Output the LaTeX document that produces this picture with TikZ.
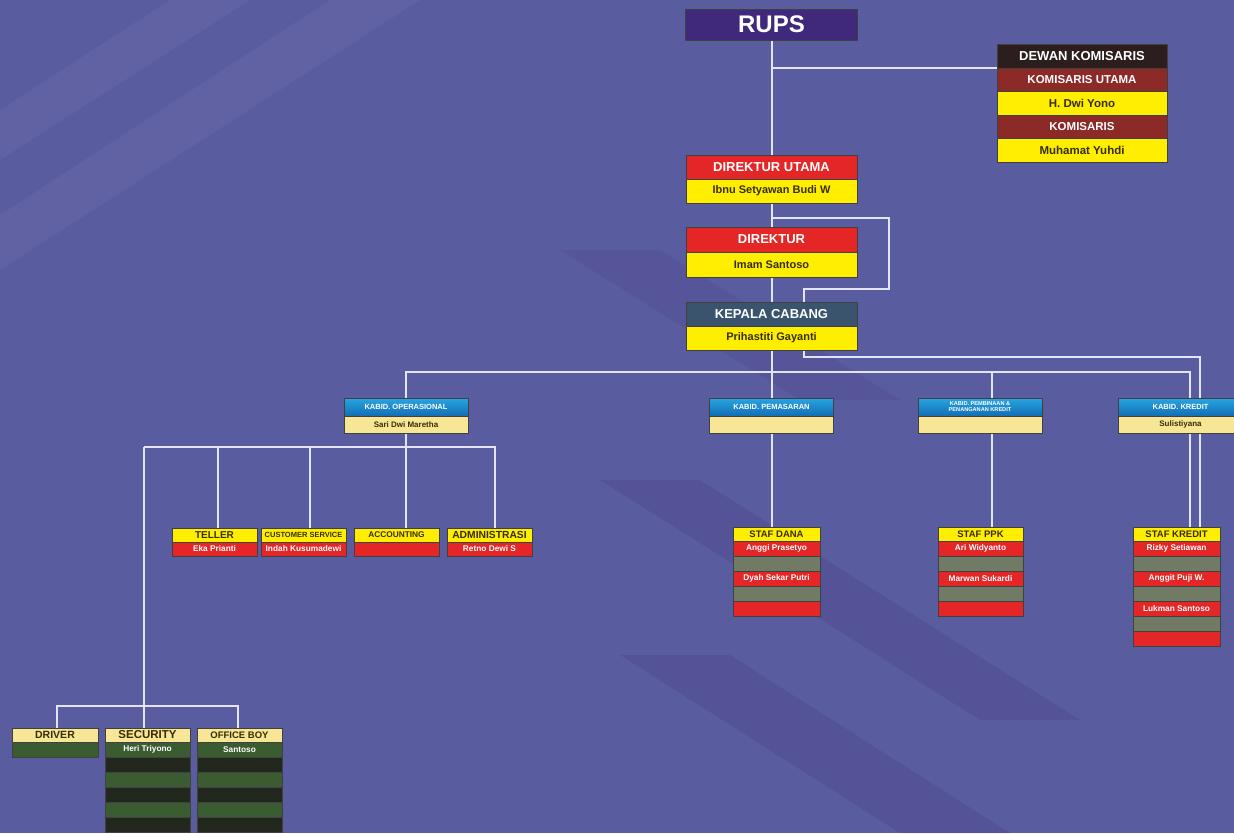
\documentclass[tikz,border=0pt]{standalone}
\usepackage{fontspec}
\setmainfont{Liberation Sans}
\usetikzlibrary{positioning,calc}

\definecolor{bgc}{RGB}{90,92,160}
\definecolor{stripec}{RGB}{70,60,130}
\definecolor{rupsc}{RGB}{64,40,122}
\definecolor{dkc}{RGB}{45,30,30}
\definecolor{brownc}{RGB}{140,42,40}
\definecolor{yelc}{RGB}{255,238,0}
\definecolor{redc}{RGB}{228,38,38}
\definecolor{slatec}{RGB}{58,84,110}
\definecolor{bluetc}{RGB}{40,165,225}
\definecolor{bluebc}{RGB}{18,110,180}
\definecolor{paleyc}{RGB}{246,230,150}
\definecolor{grayc}{RGB}{112,122,100}
\definecolor{greenc}{RGB}{58,92,48}
\definecolor{darkgc}{RGB}{34,40,30}
\definecolor{linec}{RGB}{228,228,248}
\definecolor{inkc}{RGB}{55,45,0}

\pgfdeclarelayer{back}
\pgfdeclarelayer{lines}
\pgfsetlayers{back,lines,main}

\begin{document}
\begin{tikzpicture}[x=1pt,y=-1pt,
  box/.style={draw=black!75, line width=0.6pt, inner sep=0pt, outer sep=0pt, font=\bfseries},
  mid/.style={box, minimum width=171pt, minimum height=24pt},
  kabid/.style={box, minimum width=124pt, minimum height=18pt, top color=bluetc, bottom color=bluebc, text=white, font=\bfseries\fontsize{7.5}{8}\selectfont},
  kname/.style={box, minimum width=124pt, minimum height=17pt, fill=paleyc, text=inkc, font=\bfseries\fontsize{8}{9}\selectfont},
  shd/.style={box, fill=yelc, text=inkc, minimum height=14pt, font=\bfseries\fontsize{9.5}{10}\selectfont},
  srow/.style={box, minimum height=15pt, text=white, font=\bfseries\fontsize{8.3}{9}\selectfont},
  link/.style={draw=linec, line width=2pt}]

\useasboundingbox (0,0) rectangle (1234,833);

\begin{pgfonlayer}{back}
  \fill[bgc] (0,0) rectangle (1234,833);
  \fill[stripec, opacity=0.25] (600,480) -- (700,480) -- (1080,720) -- (980,720) -- cycle;
  \fill[stripec, opacity=0.25] (620,655) -- (730,655) -- (1010,833) -- (900,833) -- cycle;
  \fill[stripec, opacity=0.2] (560,250) -- (660,250) -- (900,400) -- (800,400) -- cycle;
  \fill[white, opacity=0.04] (170,0) -- (250,0) -- (0,160) -- (0,110) -- cycle;
  \fill[white, opacity=0.04] (330,0) -- (420,0) -- (0,270) -- (0,215) -- cycle;
\end{pgfonlayer}

% top
\node[box, fill=rupsc, text=white, minimum width=172pt, minimum height=31pt, anchor=north,
  font=\bfseries\fontsize{24}{26}\selectfont] (rups) at (771.5,9) {RUPS};

\node[box, fill=dkc, text=white, minimum width=170pt, minimum height=24pt, anchor=north,
  font=\bfseries\fontsize{13}{15}\selectfont] (dk0) at (1082,44) {DEWAN KOMISARIS};
\foreach \c/\t/\f [count=\i, remember=\i as \j (initially 0)] in
  {brownc/KOMISARIS UTAMA/white, yelc/H. Dwi Yono/inkc, brownc/KOMISARIS/white, yelc/Muhamat Yuhdi/inkc}
  \node[box, fill=\c, text=\f, minimum width=170pt, minimum height=23.5pt, below=0pt of dk\j,
    font=\bfseries\fontsize{11.5}{13}\selectfont] (dk\i) {\t};

\node[mid, fill=redc, text=white, anchor=north, font=\bfseries\fontsize{13}{15}\selectfont] (du0) at (771.5,155) {DIREKTUR UTAMA};
\node[mid, fill=yelc, text=inkc, below=0pt of du0, font=\bfseries\fontsize{11}{13}\selectfont] (du1) {Ibnu Setyawan Budi W};

\node[mid, fill=redc, text=white, anchor=north, minimum height=25pt, font=\bfseries\fontsize{13}{15}\selectfont] (dir0) at (771.5,227) {DIREKTUR};
\node[mid, fill=yelc, text=inkc, minimum height=25pt, below=0pt of dir0, font=\bfseries\fontsize{11}{13}\selectfont] (dir1) {Imam Santoso};

\node[mid, fill=slatec, text=white, anchor=north, font=\bfseries\fontsize{13}{15}\selectfont] (kc0) at (771.5,302) {KEPALA CABANG};
\node[mid, fill=yelc, text=inkc, below=0pt of kc0, font=\bfseries\fontsize{11}{13}\selectfont] (kc1) {Prihastiti Gayanti};

% kabid
\node[kabid, anchor=north] (ops0) at (406,398) {KABID. OPERASIONAL};
\node[kname, below=0pt of ops0] (ops1) {Sari Dwi Maretha};
\node[kabid, anchor=north] (pem0) at (771.5,398) {KABID. PEMASARAN};
\node[kname, below=0pt of pem0] (pem1) {};
\node[kabid, anchor=north, align=center, font=\bfseries\fontsize{5.6}{6}\selectfont] (pemb0) at (980,398) {KABID. PEMBINAAN \&\\PENANGANAN KREDIT};
\node[kname, below=0pt of pemb0] (pemb1) {};
\node[kabid, anchor=north] (kre0) at (1180.5,398) {KABID. KREDIT};
\node[kname, below=0pt of kre0] (kre1) {Sulistiyana};

% staf operasional
\foreach \n/\x/\s/\h/\t in {tel/214.5/10/TELLER/Eka Prianti, cs/303.5/7.5/CUSTOMER SERVICE/Indah Kusumadewi,
    acc/396.5/8.3/ACCOUNTING/, adm/489.5/10.3/ADMINISTRASI/Retno Dewi S} {
  \node[shd, minimum width=85pt, anchor=north, font=\bfseries\fontsize{\s}{\s}\selectfont] (\n0) at (\x,528) {\h};
  \node[srow, fill=redc, minimum width=85pt, minimum height=14pt, below=0pt of \n0] (\n1) {\t};
}

% staf dana, ppk, kredit
\node[shd, minimum width=87pt, anchor=north] (dana0) at (776.5,527) {STAF DANA};
\foreach \c/\t [count=\i, remember=\i as \j (initially 0)] in {redc/Anggi Prasetyo, grayc/, redc/Dyah Sekar Putri, grayc/, redc/}
  \node[srow, fill=\c, minimum width=87pt, below=0pt of dana\j] (dana\i) {\t};

\node[shd, minimum width=85pt, anchor=north] (ppk0) at (980.5,527) {STAF PPK};
\foreach \c/\t [count=\i, remember=\i as \j (initially 0)] in {redc/Ari Widyanto, grayc/, redc/Marwan Sukardi, grayc/, redc/}
  \node[srow, fill=\c, minimum width=85pt, below=0pt of ppk\j] (ppk\i) {\t};

\node[shd, minimum width=87pt, anchor=north] (skr0) at (1176.5,527) {STAF KREDIT};
\foreach \c/\t [count=\i, remember=\i as \j (initially 0)] in {redc/Rizky Setiawan, grayc/, redc/Anggit Puji W., grayc/, redc/Lukman Santoso, grayc/, redc/}
  \node[srow, fill=\c, minimum width=87pt, below=0pt of skr\j] (skr\i) {\t};

% bawah
\node[shd, fill=paleyc, minimum width=86pt, anchor=north, font=\bfseries\fontsize{10.5}{11}\selectfont] (drv0) at (55,728) {DRIVER};
\node[srow, fill=greenc, minimum width=86pt, below=0pt of drv0] (drv1) {};

\node[shd, fill=paleyc, minimum width=85pt, anchor=north, font=\bfseries\fontsize{11.5}{12}\selectfont] (sec0) at (147.5,728) {SECURITY};
\foreach \c/\t [count=\i, remember=\i as \j (initially 0)] in {greenc/Heri Triyono, darkgc/, greenc/, darkgc/, greenc/, darkgc/}
  \node[srow, fill=\c, minimum width=85pt, below=0pt of sec\j] (sec\i) {\t};

\node[shd, fill=paleyc, minimum width=85pt, anchor=north] (boy0) at (239.5,728) {OFFICE BOY};
\foreach \c/\t [count=\i, remember=\i as \j (initially 0)] in {greenc/Santoso, darkgc/, greenc/, darkgc/, greenc/, darkgc/}
  \node[srow, fill=\c, minimum width=85pt, below=0pt of boy\j] (boy\i) {\t};

\coordinate (kr1) at (1190,372);
\coordinate (kr2) at (1200,357);
\coordinate (pp) at (992,372);
\coordinate (ob) at (144,447);
\coordinate (obr) at (495,447);
\coordinate (bl) at (57,706);
\coordinate (br) at (238,706);

\begin{pgfonlayer}{lines}
  \draw[link] (rups.south) -- (pem0.north);
  \draw[link] (rups.south |- dk1.north) -- (dk1.north west);
  \draw[link] (du1.south) ++(0,15) -- ++(117,0) -- ++(0,71) -| ([xshift=32pt]kc0.north);
  \draw[link] ([xshift=32pt]kc1.south) |- (kr2) -- (kr2 |- skr0.north);
  \draw[link] (ops0.north) |- (kr1) -- (kr1 |- skr0.north);
  \draw[link] (pp) -- (pp |- ppk0.north);
  \draw[link] (pem1.south) -- (pem1.south |- dana0.north);
  \draw[link] (ops1.south) -- (ops1.south |- acc0.north);
  \draw[link] (ob) -- (obr) -- (obr |- adm0.north);
  \foreach \x/\n in {218/tel, 310/cs}
    \draw[link] (\x,447) -- (\x,447 |- \n0.north);
  \draw[link] (ob) -- (ob |- sec0.north);
  \draw[link] (bl |- drv0.north) -- (bl) -- (br) -- (br |- boy0.north);
\end{pgfonlayer}

\end{tikzpicture}
\end{document}
